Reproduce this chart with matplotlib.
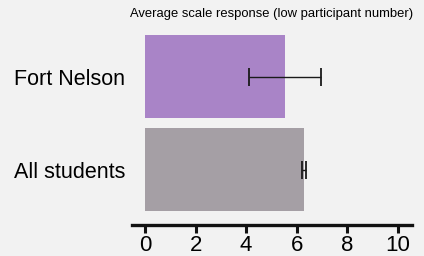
import matplotlib.pyplot as plt

groups = ['All students', 'Fort Nelson']
means = [6.30, 5.54]
errors = [0.08, 1.42]
colors = ['#a59fa5', '#a984c7']
ticks = [0, 2, 4, 6, 8, 10]
title = 'Average scale response (low participant number)'

plt.rcParams['font.family'] = ['Liberation Sans', 'DejaVu Sans']

W, H = 424, 256
fig = plt.figure(figsize=(W / 100, H / 100), dpi=100)
fig.patch.set_facecolor('#f2f2f2')

# axes box in pixel terms
left, right, top, bottom = 132, 412, 20, 225
ax = fig.add_axes([left / W, 1 - bottom / H, (right - left) / W, (bottom - top) / H])
ax.set_facecolor('#f2f2f2')

ypos = list(range(len(groups)))
ax.barh(ypos, means, height=0.9, color=colors)
ax.errorbar(means, ypos, xerr=errors, fmt='none', ecolor='#1a1a1a',
            elinewidth=1.0, capsize=6.5, capthick=1.3)

ax.set_xlim(-0.52, 10.57)
ax.set_ylim(-0.597, 1.61)
ax.set_xticks(ticks)
ax.set_xticklabels([str(t) for t in ticks], fontsize=16)
ax.set_yticks(ypos)
ax.set_yticklabels(groups, fontsize=15.5)

for s in ['top', 'right', 'left']:
    ax.spines[s].set_visible(False)
ax.spines['bottom'].set_linewidth(2.4)
ax.spines['bottom'].set_color('#111111')
ax.tick_params(axis='x', length=6, width=2.2, color='#111111', pad=1)
ax.tick_params(axis='y', length=0, pad=5)

fig.text(271.5 / W, 1 - 14 / H, title, fontsize=9.4, ha='center', va='center')

fig.savefig('out.png', dpi=100, facecolor=fig.get_facecolor())
